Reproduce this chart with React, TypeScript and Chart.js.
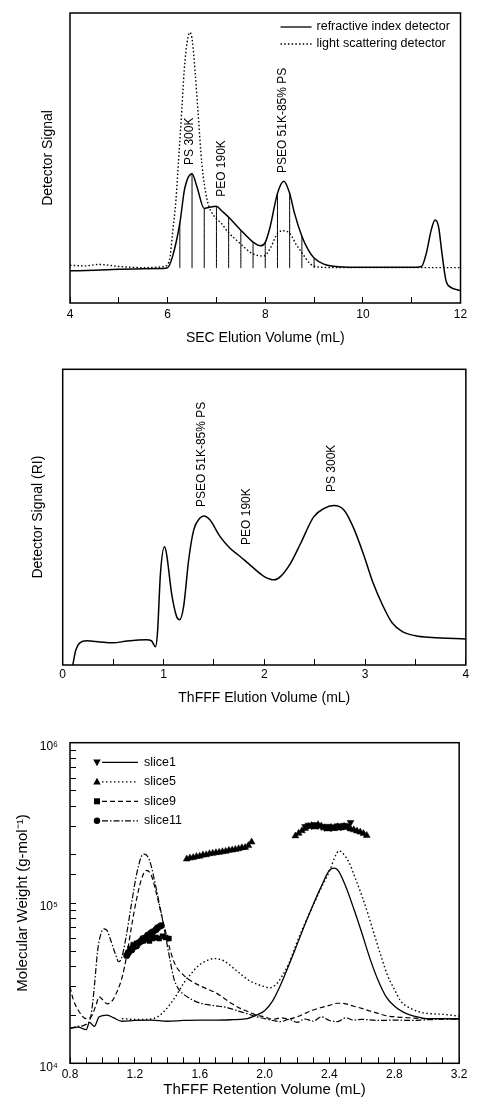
import React, { useEffect, useRef } from 'react';
import { Chart, registerables } from 'chart.js';

Chart.register(...registerables);

const FONT = '"Liberation Sans", Arial, Helvetica, sans-serif';
Chart.defaults.font.family = FONT;
Chart.defaults.color = '#000';

// ---------- SEC chromatogram (refractive index + light scattering) ----------
const secRiVolume = [4.0, 4.5, 5.0, 5.5, 5.9, 6.0, 6.1, 6.25, 6.35, 6.5, 6.6, 6.75, 6.85, 7.0, 7.1, 7.25, 7.5, 7.75, 7.9, 8.0, 8.1, 8.25, 8.38, 8.5, 8.6, 8.75, 8.88, 9.0, 9.2, 9.5, 10.0, 10.5, 11.0, 11.2, 11.3, 11.4, 11.48, 11.55, 11.62, 11.7, 11.8, 11.9, 12.0];
const secRiSignal = [11.1, 11.3, 11.6, 11.8, 11.9, 12.2, 16, 27.5, 39.5, 44.6, 40.1, 32.6, 33.0, 33.4, 31.9, 29.6, 25.1, 21.0, 19.7, 20.9, 26.3, 37.8, 42, 37.8, 30.9, 23.0, 18.3, 15.5, 13.4, 12.5, 12.3, 12.3, 12.3, 12.6, 17.2, 25.2, 28.6, 26.3, 17.1, 7.9, 5.4, 4.7, 4.3];

const secLsVolume = [4.0, 4.3, 4.6, 5.0, 5.5, 5.9, 6.0, 6.05, 6.1, 6.17, 6.22, 6.29, 6.34, 6.4, 6.46, 6.51, 6.56, 6.62, 6.7, 6.81, 6.96, 7.1, 7.23, 7.48, 7.73, 7.97, 8.1, 8.25, 8.37, 8.5, 8.64, 8.76, 8.91, 9.04, 9.5, 10, 11, 12];
const secLsSignal = [13.0, 12.8, 13.3, 12.6, 12.2, 12.5, 13.3, 16, 24, 35.5, 48.2, 66.5, 80.3, 90, 93.3, 90, 80.3, 66.5, 48.2, 35.5, 29.8, 27.5, 24.6, 20.6, 17.1, 16.2, 18.8, 24, 24.9, 24, 20, 17.1, 13.7, 12.5, 12.2, 12.2, 12.2, 12.2];

// elution slices cut from the RI trace
const secSliceVolumes = [6.25, 6.5, 6.75, 7.0, 7.25, 7.5, 7.75, 8.0, 8.25, 8.5, 8.75, 9.0];
const secSliceBase = 12;

const secPeakNames = ['PS 300K', 'PEO 190K', 'PSEO 51K-85% PS'];
const secPeakAtVolume = [6.45, 7.1, 8.36];
const secPeakAtSignal = [47.6, 36.6, 44.8];

// ---------- ThFFF fractogram ----------
const fffVolume = [0.1, 0.13, 0.17, 0.24, 0.37, 0.5, 0.64, 0.83, 0.88, 0.92, 0.94, 0.97, 1.01, 1.03, 1.08, 1.13, 1.16, 1.2, 1.25, 1.3, 1.36, 1.4, 1.46, 1.56, 1.66, 1.76, 1.86, 2.0, 2.1, 2.16, 2.26, 2.36, 2.49, 2.59, 2.69, 2.79, 2.88, 2.98, 3.08, 3.18, 3.27, 3.37, 3.5, 3.66, 4.0];
const fffSignal = [0, 5.1, 7.5, 8.2, 7.8, 7.5, 8.1, 8.5, 8.2, 6.2, 10.7, 31, 40, 37.7, 24.3, 16.4, 15.3, 19.8, 35.6, 45.7, 49.6, 50.4, 49.1, 43.5, 39.5, 36.7, 33.8, 29.9, 28.8, 29.9, 34.4, 41.1, 50.1, 52.9, 53.9, 52.4, 46.8, 37.9, 27.7, 19.8, 14.2, 11.3, 9.9, 9.3, 8.8];

const fffPeakNames = ['PSEO 51K-85% PS', 'PEO 190K', 'PS 300K'];
const fffPeakAtVolume = [1.38, 1.83, 2.67];
const fffPeakAtSignal = [53.4, 40.6, 58.5];

// ---------- ThFFF fractograms of SEC slices with molecular weight ----------
const slice1Volume = [0.8, 0.85, 0.9, 0.92, 0.95, 0.98, 1.03, 1.07, 1.12, 1.2, 1.3, 1.4, 1.5, 1.6, 1.7, 1.8, 1.88, 1.95, 2.0, 2.05, 2.1, 2.15, 2.2, 2.25, 2.3, 2.35, 2.4, 2.43, 2.46, 2.5, 2.55, 2.6, 2.65, 2.7, 2.75, 2.8, 2.85, 2.9, 2.95, 3.0, 3.1, 3.2];
const slice1Trace = [16.5e3, 16.8e3, 16.2e3, 18e3, 17e3, 19.5e3, 20e3, 19.2e3, 18.3e3, 18.5e3, 18.6e3, 18.3e3, 18.5e3, 18.6e3, 18.6e3, 18.7e3, 18.9e3, 20e3, 21.3e3, 24.5e3, 31e3, 41e3, 55e3, 74e3, 98e3, 127e3, 160e3, 165e3, 156e3, 127e3, 92e3, 65e3, 45e3, 33e3, 26e3, 22.8e3, 21e3, 20e3, 19.4e3, 19e3, 19e3, 18.9e3];

const slice5Volume = [1.12, 1.2, 1.28, 1.34, 1.39, 1.45, 1.51, 1.55, 1.59, 1.64, 1.69, 1.75, 1.83, 1.91, 1.99, 2.03, 2.07, 2.1, 2.15, 2.2, 2.25, 2.3, 2.35, 2.4, 2.44, 2.46, 2.48, 2.52, 2.56, 2.6, 2.64, 2.68, 2.72, 2.76, 2.8, 2.84, 2.9, 2.95, 3.0, 3.1, 3.2];
const slice5Trace = [19e3, 18.8e3, 18.8e3, 19.5e3, 21.6e3, 26e3, 32.6e3, 36.5e3, 40.5e3, 43.5e3, 45e3, 43.5e3, 37.6e3, 32.6e3, 30.3e3, 29.6e3, 31e3, 34e3, 42e3, 57e3, 75e3, 97e3, 125e3, 158e3, 200e3, 212e3, 205e3, 180e3, 142e3, 111e3, 84e3, 62e3, 46e3, 35e3, 29e3, 24.4e3, 22e3, 21e3, 20.5e3, 20.2e3, 19.7e3];

const slice9Volume = [0.8, 0.82, 0.85, 0.9, 0.93, 0.96, 0.98, 1.0, 1.03, 1.06, 1.09, 1.12, 1.15, 1.18, 1.21, 1.24, 1.27, 1.3, 1.33, 1.36, 1.39, 1.42, 1.45, 1.5, 1.55, 1.6, 1.65, 1.7, 1.75, 1.8, 1.85, 1.9, 1.95, 2.0, 2.05, 2.1, 2.15, 2.2, 2.25, 2.3, 2.35, 2.4, 2.45, 2.5, 2.55, 2.6, 2.65, 2.7, 2.75, 2.8, 2.9, 3.0, 3.2];
const slice9Trace = [30e3, 25e3, 21.5e3, 19e3, 19.5e3, 23e3, 26e3, 25e3, 23.5e3, 24.5e3, 28e3, 34e3, 47e3, 72e3, 105e3, 140e3, 160e3, 150e3, 118e3, 88e3, 66e3, 50e3, 41e3, 35.5e3, 32.5e3, 30.5e3, 29e3, 27.5e3, 25.5e3, 23.5e3, 22e3, 21e3, 20e3, 19.5e3, 18.8e3, 19.2e3, 18.9e3, 19.5e3, 20.5e3, 21.5e3, 22.3e3, 23e3, 23.7e3, 23.5e3, 22.7e3, 22e3, 21.2e3, 20.5e3, 19.8e3, 19.5e3, 19.2e3, 19e3, 19e3];

const slice11Volume = [0.8, 0.85, 0.9, 0.93, 0.95, 0.97, 0.99, 1.01, 1.03, 1.05, 1.08, 1.1, 1.12, 1.15, 1.18, 1.21, 1.24, 1.26, 1.29, 1.32, 1.35, 1.38, 1.41, 1.44, 1.47, 1.5, 1.55, 1.6, 1.65, 1.7, 1.75, 1.8, 1.85, 1.9, 1.95, 2.0, 2.05, 2.1, 2.15, 2.2, 2.25, 2.3, 2.35, 2.4, 2.45, 2.5, 2.55, 2.6, 2.7, 2.8, 2.9, 3.0, 3.2];
const slice11Trace = [16.5e3, 17e3, 17.5e3, 20e3, 30e3, 50e3, 64e3, 69e3, 67e3, 59e3, 48e3, 43e3, 46e3, 65e3, 100e3, 150e3, 195e3, 202e3, 185e3, 140e3, 100e3, 70e3, 48e3, 34e3, 29e3, 27e3, 25e3, 23.8e3, 23.2e3, 22.8e3, 22.5e3, 21.8e3, 21e3, 20.3e3, 19.5e3, 19e3, 18.5e3, 18.2e3, 18.8e3, 18e3, 18.9e3, 18.3e3, 19.5e3, 18.5e3, 18.2e3, 19.2e3, 18.6e3, 18.8e3, 18.5e3, 18.6e3, 18.5e3, 18.7e3, 18.9e3];

// molecular weight from light scattering, per slice
const slice1MwVolume = [2.25, 2.27, 2.29, 2.31, 2.33, 2.35, 2.37, 2.39, 2.41, 2.43, 2.45, 2.47, 2.49, 2.51, 2.53];
const slice1Mw = [300e3, 306e3, 303e3, 309e3, 304e3, 300e3, 296e3, 301e3, 294e3, 299e3, 303e3, 298e3, 305e3, 302e3, 318e3];

const slice5MwVolume = [1.52, 1.54, 1.56, 1.58, 1.60, 1.62, 1.64, 1.66, 1.68, 1.70, 1.72, 1.74, 1.76, 1.78, 1.80, 1.82, 1.84, 1.86, 1.88, 1.90, 1.92, 2.19, 2.21, 2.23, 2.25, 2.27, 2.29, 2.31, 2.33, 2.35, 2.37, 2.39, 2.41, 2.43, 2.45, 2.47, 2.49, 2.51, 2.53, 2.55, 2.57, 2.59, 2.61, 2.63];
const slice5Mw = [188e3, 191e3, 192e3, 195e3, 196e3, 199e3, 200e3, 203e3, 204e3, 206e3, 207e3, 209e3, 210e3, 213e3, 214e3, 216e3, 218e3, 221e3, 222e3, 228e3, 240e3, 262e3, 272e3, 282e3, 292e3, 300e3, 304e3, 298e3, 308e3, 302e3, 295e3, 290e3, 296e3, 291e3, 299e3, 294e3, 301e3, 296e3, 290e3, 286e3, 281e3, 277e3, 271e3, 264e3];

const slice9MwVolume = [1.17, 1.19, 1.21, 1.23, 1.25, 1.27, 1.29, 1.31, 1.33, 1.35, 1.37, 1.39, 1.41];
const slice9Mw = [52e3, 55e3, 56e3, 57e3, 58e3, 59e3, 58e3, 60e3, 61e3, 60e3, 62e3, 61e3, 60e3];

const slice11MwVolume = [1.15, 1.16, 1.18, 1.19, 1.21, 1.22, 1.24, 1.25, 1.27, 1.28, 1.30, 1.31, 1.33, 1.34, 1.36];
const slice11Mw = [47e3, 49e3, 51e3, 53e3, 54e3, 56e3, 58e3, 60e3, 61e3, 63e3, 65e3, 66e3, 68e3, 70e3, 72e3];

const sliceNames = ['slice1', 'slice5', 'slice9', 'slice11'];

// ---------- styling ----------
const DOTTED = [1.5, 2.2];
const DASHED = [5, 3];
const DASH_DOT = [6, 2, 1.5, 2];
const SLICE_DASH = [[], [1.5, 2.5], DASHED, DASH_DOT];
const SLICE_MARK = ['down', 'up', 'square', 'circle'];

const pts = (xs: number[], ys: number[]) => xs.map((x, i) => ({ x, y: ys[i] }));

const framePlugin = {
  id: 'frame',
  afterDraw(chart: any) {
    const { ctx, chartArea: a } = chart;
    ctx.save();
    ctx.strokeStyle = '#000';
    ctx.lineWidth = 1.5;
    ctx.strokeRect(a.left, a.top, a.right - a.left, a.bottom - a.top);
    ctx.restore();
  },
};

const peakLabels = (names: string[], xs: number[], ys: number[]) => ({
  id: 'peakLabels',
  afterDatasetsDraw(chart: any) {
    const { ctx, scales } = chart;
    ctx.save();
    ctx.font = `12px ${FONT}`;
    ctx.fillStyle = '#000';
    ctx.textAlign = 'left';
    ctx.textBaseline = 'middle';
    names.forEach((t, i) => {
      ctx.save();
      ctx.translate(scales.x.getPixelForValue(xs[i]), scales.y.getPixelForValue(ys[i]));
      ctx.rotate(-Math.PI / 2);
      ctx.fillText(t, 0, 0);
      ctx.restore();
    });
    ctx.restore();
  },
});

function drawMark(ctx: CanvasRenderingContext2D, kind: string, x: number, y: number, r: number) {
  ctx.beginPath();
  if (kind === 'up' || kind === 'down') {
    const s = kind === 'up' ? 1 : -1;
    ctx.moveTo(x, y - s * r);
    ctx.lineTo(x + r * 0.95, y + s * r * 0.7);
    ctx.lineTo(x - r * 0.95, y + s * r * 0.7);
    ctx.closePath();
  } else if (kind === 'square') {
    ctx.rect(x - r * 0.75, y - r * 0.75, r * 1.5, r * 1.5);
  } else {
    ctx.arc(x, y, r * 0.8, 0, Math.PI * 2);
  }
  ctx.fill();
}

const secLegend = {
  id: 'secLegend',
  afterDraw(chart: any) {
    const { ctx, chartArea: a } = chart;
    const rows = [
      { text: 'refractive index detector', dash: [] as number[] },
      { text: 'light scattering detector', dash: DOTTED },
    ];
    ctx.save();
    ctx.font = `12.5px ${FONT}`;
    ctx.fillStyle = '#000';
    ctx.strokeStyle = '#000';
    ctx.textBaseline = 'middle';
    rows.forEach((r, i) => {
      const y = a.top + 14 + i * 17;
      ctx.lineWidth = 1.3;
      ctx.setLineDash(r.dash);
      ctx.beginPath();
      ctx.moveTo(a.right - 180, y);
      ctx.lineTo(a.right - 149, y);
      ctx.stroke();
      ctx.setLineDash([]);
      ctx.fillText(r.text, a.right - 144, y);
    });
    ctx.restore();
  },
};

const sliceLegend = {
  id: 'sliceLegend',
  afterDraw(chart: any) {
    const { ctx, chartArea: a } = chart;
    ctx.save();
    ctx.font = `12.5px ${FONT}`;
    ctx.fillStyle = '#000';
    ctx.strokeStyle = '#000';
    ctx.textBaseline = 'middle';
    sliceNames.forEach((name, i) => {
      const y = a.top + 19.6 + i * 19.5;
      drawMark(ctx, SLICE_MARK[i], a.left + 27, y, 4);
      ctx.lineWidth = 1.2;
      ctx.setLineDash(SLICE_DASH[i]);
      ctx.beginPath();
      ctx.moveTo(a.left + 32, y);
      ctx.lineTo(a.left + 68, y);
      ctx.stroke();
      ctx.setLineDash([]);
      ctx.fillText(name, a.left + 74, y);
    });
    ctx.restore();
  },
};

const inwardGrid = { display: true, drawOnChartArea: false, drawTicks: true, tickLength: -6, color: '#000', lineWidth: 1 };
const hiddenY = (title: string, pad: number, width: number, size = 14) => ({
  type: 'linear',
  min: 0,
  max: 100,
  afterFit: (s: any) => { s.width = width; },
  ticks: { display: false },
  grid: { display: false },
  border: { display: false },
  title: { display: true, text: title, font: { size }, padding: { top: pad, bottom: 0 } },
});

const line = (data: any[], dash: number[] = [], width = 1.4) => ({
  data,
  borderColor: '#000',
  borderWidth: width,
  borderDash: dash,
  pointRadius: 0,
  cubicInterpolationMode: 'monotone',
  fill: false,
});

const marks = (data: any[], style: string, rotation: number, radius: number) => ({
  data,
  showLine: false,
  pointStyle: style,
  rotation,
  pointRadius: radius,
  backgroundColor: '#000',
  borderColor: '#000',
  borderWidth: 0.5,
});

function secConfig(): any {
  const riAt = (v: number) => secRiSignal[secRiVolume.indexOf(v)];
  return {
    type: 'line',
    data: {
      datasets: [
        ...secSliceVolumes.map((v) =>
          line([{ x: v, y: secSliceBase }, { x: v, y: riAt(v) }], [], 1)),
        line(pts(secLsVolume, secLsSignal), DOTTED, 1.4),
        line(pts(secRiVolume, secRiSignal), [], 1.5),
      ],
    },
    options: {
      responsive: false,
      animation: false,
      events: [],
      layout: { padding: { top: 13, right: 6, bottom: 0, left: 0 } },
      plugins: { legend: { display: false }, tooltip: { enabled: false } },
      scales: {
        x: {
          type: 'linear',
          min: 4,
          max: 12,
          afterFit: (s: any) => { s.height = 47; },
          ticks: { stepSize: 1, autoSkip: false, maxRotation: 0, padding: 10.8, font: { size: 12 },
            callback: (v: number) => (v % 2 === 0 ? String(v) : '') },
          grid: inwardGrid,
          border: { display: false },
          title: { display: true, text: 'SEC Elution Volume (mL)', font: { size: 14 }, padding: { top: 0, bottom: 3.9 } },
        },
        y: hiddenY('Detector Signal', 39.6, 70),
      },
    },
    plugins: [framePlugin, peakLabels(secPeakNames, secPeakAtVolume, secPeakAtSignal), secLegend],
  };
}

function fffConfig(): any {
  return {
    type: 'line',
    data: { datasets: [line(pts(fffVolume, fffSignal), [], 1.5)] },
    options: {
      responsive: false,
      animation: false,
      events: [],
      layout: { padding: { top: 14.3, right: 9.7, bottom: 0, left: 0 } },
      plugins: { legend: { display: false }, tooltip: { enabled: false } },
      scales: {
        x: {
          type: 'linear',
          min: 0,
          max: 4,
          afterFit: (s: any) => { s.height = 45; },
          ticks: { stepSize: 0.5, autoSkip: false, maxRotation: 0, padding: 8.8, font: { size: 12 },
            callback: (v: number) => (Number.isInteger(v) ? String(v) : '') },
          grid: inwardGrid,
          border: { display: false },
          title: { display: true, text: 'ThFFF Elution Volume (mL)', font: { size: 14 }, padding: { top: 0, bottom: 3.6 } },
        },
        y: hiddenY('Detector Signal (RI)', 29.6, 62.7),
      },
    },
    plugins: [framePlugin, peakLabels(fffPeakNames, fffPeakAtVolume, fffPeakAtSignal)],
  };
}

const SUP: Record<string, string> = { '4': '\u2074', '5': '\u2075', '6': '\u2076' };

function mwConfig(): any {
  return {
    type: 'line',
    data: {
      datasets: [
        line(pts(slice1Volume, slice1Trace), [], 1.3),
        line(pts(slice5Volume, slice5Trace), SLICE_DASH[1], 1.4),
        line(pts(slice9Volume, slice9Trace), SLICE_DASH[2], 1.2),
        line(pts(slice11Volume, slice11Trace), SLICE_DASH[3], 1.2),
        marks(pts(slice5MwVolume, slice5Mw), 'triangle', 0, 4),
        marks(pts(slice1MwVolume, slice1Mw), 'triangle', 180, 4),
        marks(pts(slice9MwVolume, slice9Mw), 'rect', 0, 3.5),
        marks(pts(slice11MwVolume, slice11Mw), 'circle', 0, 3.3),
      ],
    },
    options: {
      responsive: false,
      animation: false,
      events: [],
      layout: { padding: { top: 32.7, right: 10.7, bottom: 0, left: 0 } },
      plugins: { legend: { display: false }, tooltip: { enabled: false } },
      scales: {
        x: {
          type: 'linear',
          min: 0.8,
          max: 3.2,
          afterFit: (s: any) => { s.height = 43.7; },
          ticks: { stepSize: 0.1, autoSkip: false, maxRotation: 0, padding: 10.5, font: { size: 12 },
            callback: (v: number) => (Math.round(v * 10) % 4 === 0 ? v.toFixed(1) : '') },
          grid: inwardGrid,
          border: { display: false },
          title: { display: true, text: 'ThFFF Retention Volume (mL)', font: { size: 15 }, padding: { top: 0, bottom: 8.5 } },
        },
        y: {
          type: 'logarithmic',
          min: 1e4,
          max: 1e6,
          afterFit: (s: any) => { s.width = 70; },
          ticks: {
            autoSkip: false,
            padding: 18,
            labelOffset: 4,
            font: { size: 12 },
            callback: (v: number) => {
              const e = Math.log10(v);
              const r = Math.round(e);
              return Math.abs(e - r) < 1e-9 ? '10' + SUP[String(r)] : '';
            },
          },
          grid: inwardGrid,
          border: { display: false },
          title: { display: true, text: 'Molecular Weight (g-mol\u207B\u00B9)', font: { size: 15 }, padding: { top: 13.7, bottom: 0 } },
        },
      },
    },
    plugins: [framePlugin, sliceLegend],
  };
}

function Panel({ make, top, height }: { make: () => any; top: number; height: number }) {
  const ref = useRef<HTMLCanvasElement>(null);
  useEffect(() => {
    const chart = new Chart(ref.current as HTMLCanvasElement, make());
    return () => chart.destroy();
  }, [make]);
  return (
    <div style={{ position: 'absolute', left: 0, top, width: 478, height }}>
      <canvas ref={ref} width={478} height={height} style={{ display: 'block' }} />
    </div>
  );
}

export default function App() {
  return (
    <div style={{ position: 'absolute', left: 0, top: 0, width: 478, height: 1107, background: '#fff' }}>
      <Panel make={secConfig} top={0} height={350} />
      <Panel make={fffConfig} top={355} height={355} />
      <Panel make={mwConfig} top={710} height={397} />
    </div>
  );
}
